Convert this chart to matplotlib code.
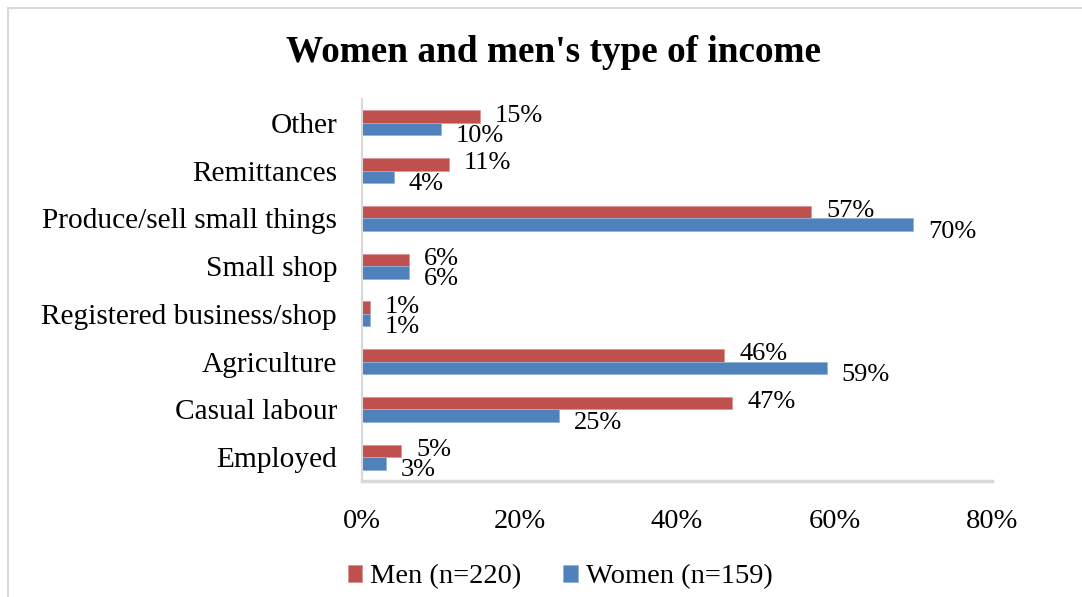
import matplotlib
matplotlib.use('Agg')
import matplotlib.pyplot as plt
from matplotlib.lines import Line2D
import numpy as np

categories = ['Other', 'Remittances', 'Produce/sell small things', 'Small shop',
              'Registered business/shop', 'Agriculture', 'Casual labour', 'Employed']
men = [15, 11, 57, 6, 1, 46, 47, 5]
women = [10, 4, 70, 6, 1, 59, 25, 3]
x_ticks = [0, 20, 40, 60, 80]

plt.rcParams['font.family'] = ['Liberation Serif', 'DejaVu Serif']

fig = plt.figure(figsize=(10.82, 5.97), dpi=100)
ax = fig.add_axes([362 / 1082, 1 - 481 / 597, 630 / 1082, 382 / 597])

y = np.arange(len(categories))[::-1]
h = 0.26
ax.barh(y + h / 2, men, height=h, color='#C0504D', edgecolor='#D99694', linewidth=0.6,
        label='Men (n=220)')
ax.barh(y - h / 2, women, height=h, color='#4F81BD', edgecolor='#95B3D7', linewidth=0.6,
        label='Women (n=159)')

for yi, m, w in zip(y, men, women):
    ax.annotate(f'{m}%', (m, yi + h / 2), xytext=(15, 1), textcoords='offset pixels',
                va='center', ha='left', fontsize=19)
    ax.annotate(f'{w}%', (w, yi - h / 2), xytext=(15, -7), textcoords='offset pixels',
                va='center', ha='left', fontsize=19)

ax.set_xlim(0, 80)
ax.set_ylim(-0.5, len(categories) - 0.5)
ax.set_yticks(y)
ax.set_yticklabels(categories, fontsize=21.2)
ax.set_xticks(x_ticks)
ax.set_xticklabels([f'{t}%' for t in x_ticks], fontsize=20.5)
ax.tick_params(axis='both', length=0)
ax.tick_params(axis='x', pad=20)
ax.tick_params(axis='y', pad=18)
for s in ['top', 'right']:
    ax.spines[s].set_visible(False)
ax.spines['left'].set_color('#D9D9D9')
ax.spines['left'].set_linewidth(1.5)
ax.spines['bottom'].set_color('#D9D9D9')
ax.spines['bottom'].set_linewidth(2.5)

fig.text(553 / 1082, 1 - 52 / 597, "Women and men's type of income", ha='center', va='center',
         fontsize=26.8, fontweight='bold')

fig.legend(loc='center', bbox_to_anchor=(560 / 1082, 1 - 577 / 597), ncol=2, frameon=False,
           fontsize=20.5, handlelength=0.52, handleheight=0.52, handletextpad=0.28,
           columnspacing=1.45)

# chart frame (top and left edges visible in the crop)
fig.add_artist(Line2D([8 / 1082, 8 / 1082], [0, 1 - 8 / 597], transform=fig.transFigure,
                      color='#D9D9D9', linewidth=1.5))
fig.add_artist(Line2D([8 / 1082, 1], [1 - 8 / 597, 1 - 8 / 597], transform=fig.transFigure,
                      color='#D9D9D9', linewidth=1.5))

fig.savefig('out.png', dpi=100)
